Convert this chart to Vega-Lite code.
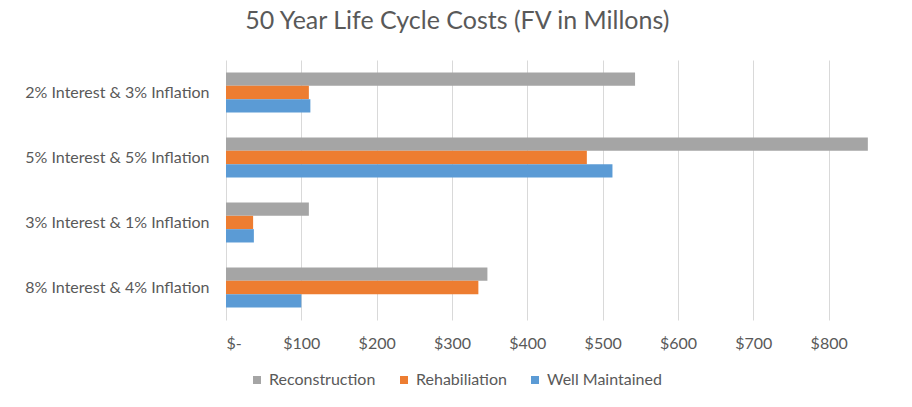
{
  "$schema": "https://vega.github.io/schema/vega-lite/v6.json",
  "autosize": {"type": "none"},
  "padding": {"left": 226, "top": 60, "right": 8, "bottom": 87},
  "width": 678,
  "height": 260,
  "background": "white",
  "title": {
    "text": "50 Year Life Cycle Costs (FV in Millons)",
    "font": "Lato",
    "fontSize": 25,
    "fontWeight": "normal",
    "color": "#595959",
    "anchor": "middle",
    "frame": "bounds",
    "offset": 26,
    "dx": -7
  },
  "data": {
    "values": [
      {"scenario": "2% Interest & 3% Inflation", "type": "Reconstruction", "cost": 543},
      {"scenario": "2% Interest & 3% Inflation", "type": "Rehabiliation", "cost": 110},
      {"scenario": "2% Interest & 3% Inflation", "type": "Well Maintained", "cost": 112},
      {"scenario": "5% Interest & 5% Inflation", "type": "Reconstruction", "cost": 852},
      {"scenario": "5% Interest & 5% Inflation", "type": "Rehabiliation", "cost": 479},
      {"scenario": "5% Interest & 5% Inflation", "type": "Well Maintained", "cost": 513},
      {"scenario": "3% Interest & 1% Inflation", "type": "Reconstruction", "cost": 110},
      {"scenario": "3% Interest & 1% Inflation", "type": "Rehabiliation", "cost": 36},
      {"scenario": "3% Interest & 1% Inflation", "type": "Well Maintained", "cost": 37},
      {"scenario": "8% Interest & 4% Inflation", "type": "Reconstruction", "cost": 347},
      {"scenario": "8% Interest & 4% Inflation", "type": "Rehabiliation", "cost": 335},
      {"scenario": "8% Interest & 4% Inflation", "type": "Well Maintained", "cost": 100}
    ]
  },
  "mark": {"type": "bar"},
  "encoding": {
    "y": {
      "field": "scenario",
      "type": "nominal",
      "sort": ["2% Interest & 3% Inflation", "5% Interest & 5% Inflation", "3% Interest & 1% Inflation", "8% Interest & 4% Inflation"],
      "scale": {"paddingInner": 0.385, "paddingOuter": 0.1925},
      "axis": {
        "title": null,
        "domain": false,
        "ticks": false,
        "labelPadding": 17,
        "labelLimit": 0,
        "labelFont": "Lato",
        "labelFontSize": 16,
        "labelColor": "#595959"
      }
    },
    "yOffset": {
      "field": "type",
      "type": "nominal",
      "sort": ["Reconstruction", "Rehabiliation", "Well Maintained"],
      "scale": {"paddingInner": 0, "paddingOuter": 0}
    },
    "x": {
      "field": "cost",
      "type": "quantitative",
      "scale": {"domain": [0, 900], "nice": false},
      "axis": {
        "title": null,
        "values": [0, 100, 200, 300, 400, 500, 600, 700, 800],
        "labelExpr": "datum.value == 0 ? '$-' : '$' + datum.value",
        "domain": false,
        "ticks": false,
        "labelPadding": 15,
        "labelFont": "Lato",
        "labelFontSize": 16,
        "labelColor": "#595959",
        "gridColor": "#D9D9D9",
        "gridWidth": 1
      }
    },
    "color": {
      "field": "type",
      "type": "nominal",
      "sort": ["Reconstruction", "Rehabiliation", "Well Maintained"],
      "scale": {"domain": ["Reconstruction", "Rehabiliation", "Well Maintained"], "range": ["#A5A5A5", "#ED7D31", "#5B9BD5"]},
      "legend": {
        "title": null,
        "orient": "none",
        "direction": "horizontal",
        "legendX": 23,
        "legendY": 312,
        "symbolType": "square",
        "symbolSize": 64,
        "symbolStrokeWidth": 0,
        "symbolOpacity": 1,
        "labelFont": "Lato",
        "labelFontSize": 16,
        "labelColor": "#595959",
        "labelOffset": 4,
        "columnPadding": 20
      }
    }
  },
  "config": {"view": {"stroke": null}}
}
